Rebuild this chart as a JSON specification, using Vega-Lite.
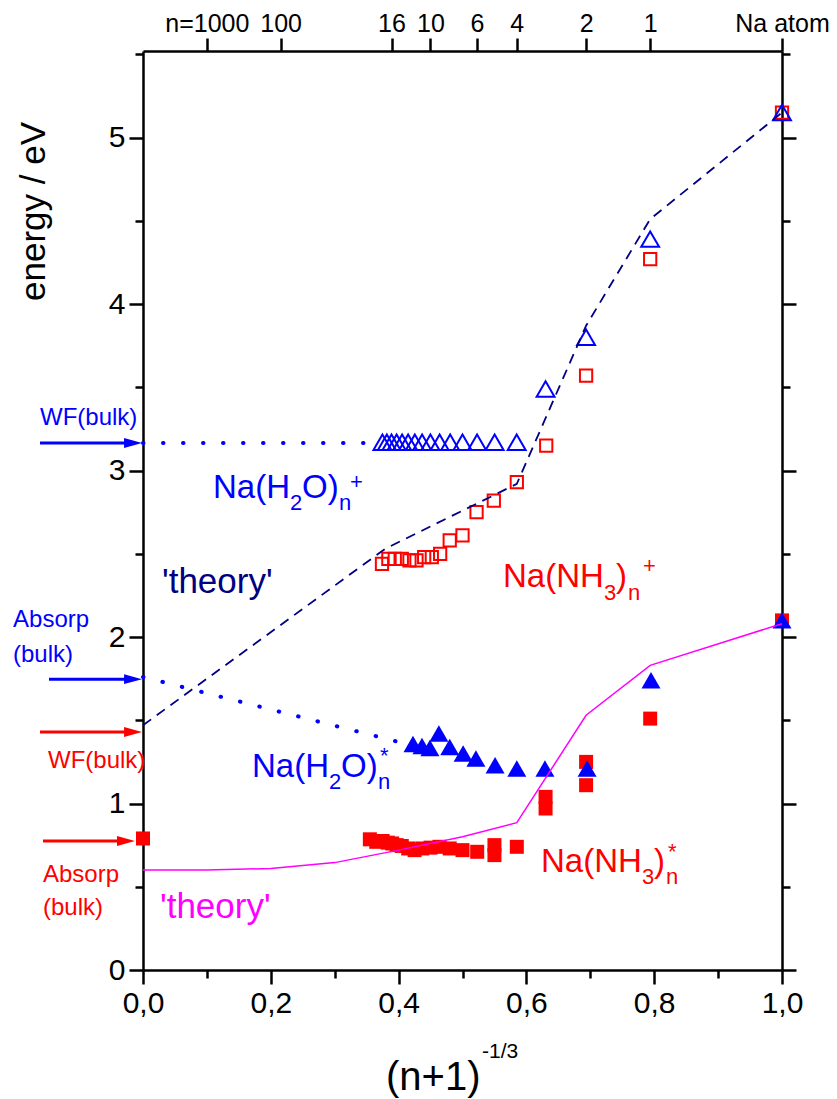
{
  "$schema": "https://vega.github.io/schema/vega-lite/v6.json",
  "width": 639,
  "height": 919,
  "autosize": {"type": "none"},
  "padding": {"left": 143, "top": 51, "right": 55, "bottom": 129},
  "background": "white",
  "config": {
    "view": {"stroke": null},
    "font": "Liberation Sans",
    "axis": {"domainColor": "black", "domainWidth": 2.5, "tickColor": "black", "tickWidth": 2.5, "labelColor": "black", "grid": false, "labelFont": "Liberation Sans", "titleFont": "Liberation Sans", "titleFontWeight": "normal", "titleColor": "black"}
  },
  "datasets": {
    "pts": [
      {"s": "amm_exc", "x": 0.0, "y": 0.79},
      {"s": "amm_exc", "x": 0.355, "y": 0.785},
      {"s": "amm_exc", "x": 0.365, "y": 0.77},
      {"s": "amm_exc", "x": 0.375, "y": 0.775},
      {"s": "amm_exc", "x": 0.383, "y": 0.765},
      {"s": "amm_exc", "x": 0.39, "y": 0.76},
      {"s": "amm_exc", "x": 0.397, "y": 0.75},
      {"s": "amm_exc", "x": 0.405, "y": 0.745},
      {"s": "amm_exc", "x": 0.415, "y": 0.73},
      {"s": "amm_exc", "x": 0.425, "y": 0.72},
      {"s": "amm_exc", "x": 0.437, "y": 0.73},
      {"s": "amm_exc", "x": 0.45, "y": 0.735},
      {"s": "amm_exc", "x": 0.464, "y": 0.74},
      {"s": "amm_exc", "x": 0.48, "y": 0.73},
      {"s": "amm_exc", "x": 0.5, "y": 0.72},
      {"s": "amm_exc", "x": 0.523, "y": 0.71},
      {"s": "amm_exc", "x": 0.55, "y": 0.75},
      {"s": "amm_exc", "x": 0.55, "y": 0.69},
      {"s": "amm_exc", "x": 0.585, "y": 0.74},
      {"s": "amm_exc", "x": 0.63, "y": 1.04},
      {"s": "amm_exc", "x": 0.63, "y": 0.97},
      {"s": "amm_exc", "x": 0.6934, "y": 1.25},
      {"s": "amm_exc", "x": 0.6934, "y": 1.11},
      {"s": "amm_exc", "x": 0.7937, "y": 1.51},
      {"s": "amm_exc", "x": 1.0, "y": 2.1},
      {"s": "amm_ion", "x": 0.374, "y": 2.44},
      {"s": "amm_ion", "x": 0.384, "y": 2.47},
      {"s": "amm_ion", "x": 0.394, "y": 2.47},
      {"s": "amm_ion", "x": 0.405, "y": 2.47},
      {"s": "amm_ion", "x": 0.417, "y": 2.46},
      {"s": "amm_ion", "x": 0.428, "y": 2.46},
      {"s": "amm_ion", "x": 0.44, "y": 2.48},
      {"s": "amm_ion", "x": 0.452, "y": 2.48},
      {"s": "amm_ion", "x": 0.465, "y": 2.5},
      {"s": "amm_ion", "x": 0.48, "y": 2.58},
      {"s": "amm_ion", "x": 0.5, "y": 2.61},
      {"s": "amm_ion", "x": 0.522, "y": 2.75},
      {"s": "amm_ion", "x": 0.549, "y": 2.82},
      {"s": "amm_ion", "x": 0.585, "y": 2.93},
      {"s": "amm_ion", "x": 0.631, "y": 3.15},
      {"s": "amm_ion", "x": 0.6934, "y": 3.57},
      {"s": "amm_ion", "x": 0.7937, "y": 4.27},
      {"s": "amm_ion", "x": 1.0, "y": 5.15},
      {"s": "wat_ion", "x": 0.3747, "y": 3.17},
      {"s": "wat_ion", "x": 0.3816, "y": 3.17},
      {"s": "wat_ion", "x": 0.3889, "y": 3.17},
      {"s": "wat_ion", "x": 0.3969, "y": 3.17},
      {"s": "wat_ion", "x": 0.4055, "y": 3.17},
      {"s": "wat_ion", "x": 0.4149, "y": 3.17},
      {"s": "wat_ion", "x": 0.4254, "y": 3.17},
      {"s": "wat_ion", "x": 0.4368, "y": 3.17},
      {"s": "wat_ion", "x": 0.4498, "y": 3.17},
      {"s": "wat_ion", "x": 0.4642, "y": 3.17},
      {"s": "wat_ion", "x": 0.4807, "y": 3.17},
      {"s": "wat_ion", "x": 0.5, "y": 3.17},
      {"s": "wat_ion", "x": 0.5228, "y": 3.17},
      {"s": "wat_ion", "x": 0.5503, "y": 3.17},
      {"s": "wat_ion", "x": 0.5848, "y": 3.17},
      {"s": "wat_ion", "x": 0.63, "y": 3.49},
      {"s": "wat_ion", "x": 0.6934, "y": 3.8},
      {"s": "wat_ion", "x": 0.7937, "y": 4.39},
      {"s": "wat_ion", "x": 1.0, "y": 5.15},
      {"s": "wat_exc", "x": 0.4225, "y": 1.357},
      {"s": "wat_exc", "x": 0.4366, "y": 1.345},
      {"s": "wat_exc", "x": 0.449, "y": 1.333},
      {"s": "wat_exc", "x": 0.463, "y": 1.42},
      {"s": "wat_exc", "x": 0.48, "y": 1.34},
      {"s": "wat_exc", "x": 0.501, "y": 1.3},
      {"s": "wat_exc", "x": 0.521, "y": 1.27},
      {"s": "wat_exc", "x": 0.551, "y": 1.23},
      {"s": "wat_exc", "x": 0.585, "y": 1.21},
      {"s": "wat_exc", "x": 0.629, "y": 1.21},
      {"s": "wat_exc", "x": 0.695, "y": 1.21},
      {"s": "wat_exc", "x": 0.795, "y": 1.74},
      {"s": "wat_exc", "x": 1.0, "y": 2.1}
    ],
    "theory": [
      {"s": "ion", "x": 0.0, "y": 1.47},
      {"s": "ion", "x": 0.379, "y": 2.53},
      {"s": "ion", "x": 0.585, "y": 2.92},
      {"s": "ion", "x": 0.6934, "y": 3.87},
      {"s": "ion", "x": 0.7937, "y": 4.51},
      {"s": "ion", "x": 1.0, "y": 5.15},
      {"s": "exc", "x": 0.0, "y": 0.6},
      {"s": "exc", "x": 0.1, "y": 0.6},
      {"s": "exc", "x": 0.2, "y": 0.61},
      {"s": "exc", "x": 0.3, "y": 0.645},
      {"s": "exc", "x": 0.4, "y": 0.72},
      {"s": "exc", "x": 0.5, "y": 0.8},
      {"s": "exc", "x": 0.585, "y": 0.885},
      {"s": "exc", "x": 0.6934, "y": 1.53},
      {"s": "exc", "x": 0.7937, "y": 1.83},
      {"s": "exc", "x": 1.0, "y": 2.08}
    ],
    "bulkdots": [
      {"seg": "wf", "x": 0.0, "y": 3.165},
      {"seg": "wf", "x": 0.365, "y": 3.165},
      {"seg": "abs", "x": 0.0, "y": 1.76},
      {"seg": "abs", "x": 0.41, "y": 1.36}
    ],
    "arrows": [
      {"g": "water", "x": -0.1612, "x2": -0.02, "y": 3.165, "hx": -0.0156},
      {"g": "water", "x": -0.1471, "x2": -0.02, "y": 1.747, "hx": -0.0156},
      {"g": "ammonia", "x": -0.1612, "x2": -0.02, "y": 1.43, "hx": -0.0156},
      {"g": "ammonia", "x": -0.1565, "x2": -0.031, "y": 0.775, "hx": -0.0266}
    ],
    "bigtext": [
      {"t": "Na(H", "g": "water", "x": 0.1095, "y": 2.834},
      {"t": "O)", "g": "water", "x": 0.2488, "y": 2.834},
      {"t": "Na(NH", "g": "ammonia", "x": 0.5634, "y": 2.3},
      {"t": ")", "g": "ammonia", "x": 0.7402, "y": 2.3},
      {"t": "Na(H", "g": "water", "x": 0.1706, "y": 1.159},
      {"t": "O)", "g": "water", "x": 0.3099, "y": 1.159},
      {"t": "Na(NH", "g": "ammonia", "x": 0.6228, "y": 0.588},
      {"t": ")", "g": "ammonia", "x": 0.7997, "y": 0.588}
    ],
    "theorytext": [
      {"t": "'theory'", "g": "ion theory", "x": 0.0297, "y": 2.264},
      {"t": "'theory'", "g": "excited theory", "x": 0.0266, "y": 0.312}
    ],
    "smalltext": [
      {"t": "2", "g": "water", "x": 0.23, "y": 2.762},
      {"t": "n", "g": "water", "x": 0.3067, "y": 2.762},
      {"t": "+", "g": "water", "x": 0.3239, "y": 2.888},
      {"t": "3", "g": "ammonia", "x": 0.7214, "y": 2.222},
      {"t": "n", "g": "ammonia", "x": 0.759, "y": 2.222},
      {"t": "+", "g": "ammonia", "x": 0.7825, "y": 2.384},
      {"t": "2", "g": "water", "x": 0.2911, "y": 1.087},
      {"t": "n", "g": "water", "x": 0.3678, "y": 1.087},
      {"t": "*", "g": "water", "x": 0.3709, "y": 1.245},
      {"t": "3", "g": "ammonia", "x": 0.7809, "y": 0.516},
      {"t": "n", "g": "ammonia", "x": 0.8185, "y": 0.516},
      {"t": "*", "g": "ammonia", "x": 0.8216, "y": 0.665}
    ],
    "sidetext": [
      {"t": "WF(bulk)", "g": "water", "x": -0.1612, "y": 3.272},
      {"t": "Absorp", "g": "water", "x": -0.2034, "y": 2.059},
      {"t": "(bulk)", "g": "water", "x": -0.2034, "y": 1.849},
      {"t": "WF(bulk)", "g": "ammonia", "x": -0.1487, "y": 1.213},
      {"t": "Absorp", "g": "ammonia", "x": -0.1565, "y": 0.528},
      {"t": "(bulk)", "g": "ammonia", "x": -0.1565, "y": 0.33}
    ],
    "xtitle": [
      {"t": "(n+1)", "x": 0.3803, "y": -0.7205}
    ],
    "xtitlesup": [
      {"t": "-1/3", "x": 0.5305, "y": -0.528}
    ]
  },
  "layer": [
    {
      "data": {"name": "pts"},
      "transform": [{"filter": "datum.s == 'amm_exc'"}],
      "mark": {"type": "point", "shape": "square", "filled": true, "color": "#ff0000", "size": 196, "opacity": 1},
      "encoding": {
        "x": {"field": "x", "type": "quantitative", "scale": {"domain": [0, 1], "nice": false, "zero": false},
          "axis": {"orient": "bottom", "title": null, "values": [0, 0.1, 0.2, 0.3, 0.4, 0.5, 0.6, 0.7, 0.8, 0.9, 1.0],
            "labelExpr": "round(datum.value*10) % 2 == 0 ? replace(format(datum.value, '.1f'), '.', ',') : ''",
            "tickSize": {"condition": {"test": "round(datum.value*10) % 2 == 0", "value": 14}, "value": 8},
            "labelFontSize": 30, "labelPadding": 4, "labelFlush": false, "labelOverlap": false}},
        "y": {"field": "y", "type": "quantitative", "scale": {"domain": [0, 5.52], "nice": false, "zero": false},
          "axis": {"orient": "left", "title": "energy / eV", "values": [0, 0.5, 1, 1.5, 2, 2.5, 3, 3.5, 4, 4.5, 5, 5.5],
            "labelExpr": "round(datum.value*2) % 2 == 0 ? format(datum.value, 'd') : ''",
            "tickSize": {"condition": {"test": "round(datum.value*2) % 2 == 0", "value": 14}, "value": 8},
            "labelFontSize": 30, "labelPadding": 4, "labelFlush": false, "labelOverlap": false,
            "titleFontSize": 35, "titleAngle": -90, "titleX": -110, "titleY": 160, "titleAlign": "center", "titleBaseline": "middle", "titleAnchor": null}}
      }
    },
    {
      "data": {"name": "pts"},
      "transform": [{"filter": "datum.s == 'amm_ion'"}],
      "mark": {"type": "point", "shape": "square", "filled": false, "color": "#ff0000", "size": 150, "strokeWidth": 2, "opacity": 1},
      "encoding": {
        "x": {"field": "x", "type": "quantitative",
          "axis": {"orient": "top", "title": null, "values": [0.0999, 0.2154, 0.3889, 0.4498, 0.5228, 0.5848, 0.6934, 0.7937, 1.0],
            "labelExpr": "datum.value < 0.15 ? 'n=1000' : datum.value < 0.3 ? '100' : datum.value < 0.42 ? '16' : datum.value < 0.48 ? '10' : datum.value < 0.55 ? '6' : datum.value < 0.62 ? '4' : datum.value < 0.75 ? '2' : datum.value < 0.9 ? '1' : 'Na atom'",
            "tickSize": 13, "labelFontSize": 25, "labelPadding": 2, "labelFlush": false, "labelOverlap": false}},
        "y": {"field": "y", "type": "quantitative",
          "axis": {"orient": "right", "title": null, "labels": false, "values": [0, 0.5, 1, 1.5, 2, 2.5, 3, 3.5, 4, 4.5, 5, 5.5],
            "tickSize": {"condition": {"test": "round(datum.value*2) % 2 == 0", "value": 14}, "value": 8}}}
      }
    },
    {
      "data": {"name": "pts"},
      "transform": [{"filter": "datum.s == 'wat_ion'"}],
      "mark": {"type": "point", "shape": "triangle-up", "filled": false, "color": "#0000ff", "size": 320, "strokeWidth": 2, "opacity": 1},
      "encoding": {
        "x": {"field": "x", "type": "quantitative", "axis": null},
        "y": {"field": "y", "type": "quantitative", "axis": null}
      }
    },
    {
      "data": {"name": "pts"},
      "transform": [{"filter": "datum.s == 'wat_exc'"}],
      "mark": {"type": "point", "shape": "triangle-up", "filled": true, "color": "#0000ff", "size": 361, "opacity": 1},
      "encoding": {
        "x": {"field": "x", "type": "quantitative", "axis": null},
        "y": {"field": "y", "type": "quantitative", "axis": null}
      }
    },
    {
      "data": {"name": "theory"},
      "transform": [{"filter": "datum.s == 'exc'"}],
      "mark": {"type": "line", "color": "#ff00ff", "strokeWidth": 1.5},
      "encoding": {
        "x": {"field": "x", "type": "quantitative", "axis": null},
        "y": {"field": "y", "type": "quantitative", "axis": null}
      }
    },
    {
      "data": {"name": "theory"},
      "transform": [{"filter": "datum.s == 'ion'"}],
      "mark": {"type": "line", "color": "#000080", "strokeWidth": 1.8, "strokeDash": [10, 7]},
      "encoding": {
        "x": {"field": "x", "type": "quantitative", "axis": null},
        "y": {"field": "y", "type": "quantitative", "axis": null}
      }
    },
    {
      "data": {"name": "bulkdots"},
      "mark": {"type": "line", "color": "#0000ff", "strokeWidth": 4, "strokeDash": [0.5, 19.5], "strokeCap": "round"},
      "encoding": {
        "x": {"field": "x", "type": "quantitative", "axis": null},
        "y": {"field": "y", "type": "quantitative", "axis": null},
        "detail": {"field": "seg"}
      }
    },
    {
      "data": {"name": "arrows"},
      "mark": {"type": "rule", "strokeWidth": 3},
      "encoding": {
        "x": {"field": "x", "type": "quantitative", "axis": null},
        "x2": {"field": "x2"},
        "y": {"field": "y", "type": "quantitative", "axis": null},
        "color": {"field": "g", "type": "nominal", "scale": {"domain": ["water", "ammonia", "ion theory", "excited theory"], "range": ["#0000ff", "#ff0000", "#000080", "#ff00ff"]}, "legend": null}
      }
    },
    {
      "data": {"name": "arrows"},
      "mark": {"type": "point", "shape": "M-1,-0.55L1,0L-1,0.55Z", "filled": true, "size": 324, "opacity": 1},
      "encoding": {
        "x": {"field": "hx", "type": "quantitative", "axis": null},
        "y": {"field": "y", "type": "quantitative", "axis": null},
        "color": {"field": "g", "type": "nominal", "legend": null}
      }
    },
    {
      "data": {"name": "bigtext"},
      "mark": {"type": "text", "align": "left", "baseline": "alphabetic", "fontSize": 33, "font": "Liberation Sans"},
      "encoding": {
        "x": {"field": "x", "type": "quantitative", "axis": null},
        "y": {"field": "y", "type": "quantitative", "axis": null},
        "text": {"field": "t"},
        "color": {"field": "g", "type": "nominal", "legend": null}
      }
    },
    {
      "data": {"name": "theorytext"},
      "mark": {"type": "text", "align": "left", "baseline": "alphabetic", "fontSize": 35, "font": "Liberation Sans"},
      "encoding": {
        "x": {"field": "x", "type": "quantitative", "axis": null},
        "y": {"field": "y", "type": "quantitative", "axis": null},
        "text": {"field": "t"},
        "color": {"field": "g", "type": "nominal", "legend": null}
      }
    },
    {
      "data": {"name": "smalltext"},
      "mark": {"type": "text", "align": "left", "baseline": "alphabetic", "fontSize": 22, "font": "Liberation Sans"},
      "encoding": {
        "x": {"field": "x", "type": "quantitative", "axis": null},
        "y": {"field": "y", "type": "quantitative", "axis": null},
        "text": {"field": "t"},
        "color": {"field": "g", "type": "nominal", "legend": null}
      }
    },
    {
      "data": {"name": "sidetext"},
      "mark": {"type": "text", "align": "left", "baseline": "alphabetic", "fontSize": 24, "font": "Liberation Sans"},
      "encoding": {
        "x": {"field": "x", "type": "quantitative", "axis": null},
        "y": {"field": "y", "type": "quantitative", "axis": null},
        "text": {"field": "t"},
        "color": {"field": "g", "type": "nominal", "legend": null}
      }
    },
    {
      "data": {"name": "xtitle"},
      "mark": {"type": "text", "align": "left", "baseline": "alphabetic", "fontSize": 40, "font": "Liberation Sans", "color": "black"},
      "encoding": {
        "x": {"field": "x", "type": "quantitative", "axis": null},
        "y": {"field": "y", "type": "quantitative", "axis": null},
        "text": {"field": "t"}
      }
    },
    {
      "data": {"name": "xtitlesup"},
      "mark": {"type": "text", "align": "left", "baseline": "alphabetic", "fontSize": 21, "font": "Liberation Sans", "color": "black"},
      "encoding": {
        "x": {"field": "x", "type": "quantitative", "axis": null},
        "y": {"field": "y", "type": "quantitative", "axis": null},
        "text": {"field": "t"}
      }
    }
  ],
  "resolve": {"axis": {"x": "independent", "y": "independent"}}
}
